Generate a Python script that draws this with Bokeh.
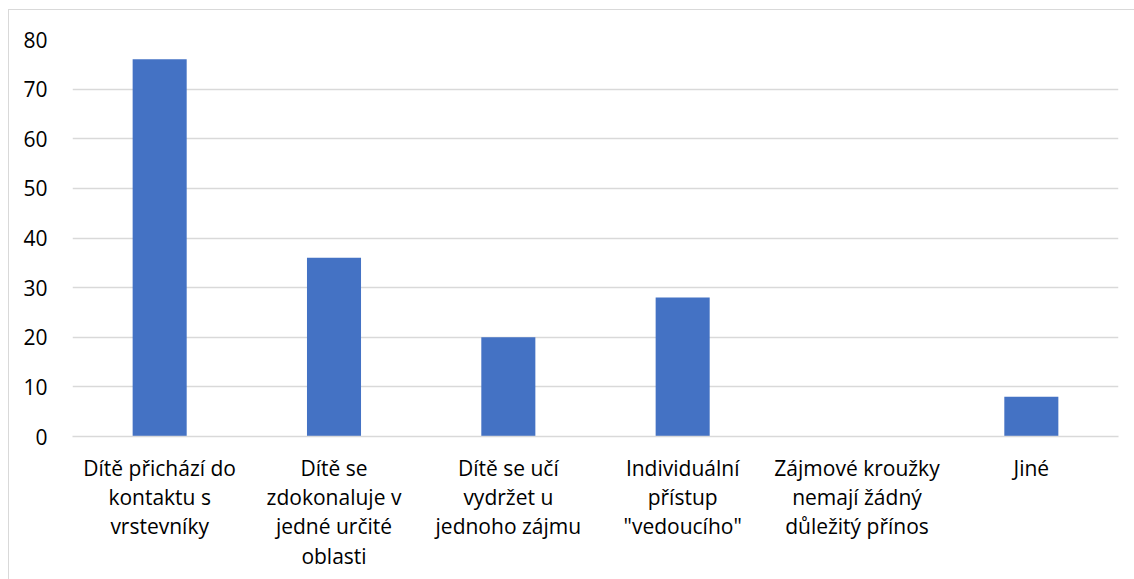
from bokeh.plotting import figure
from bokeh.models import ColumnDataSource, FixedTicker, Range1d
from bokeh.embed import file_html
from bokeh.resources import INLINE

categories = [
    "Dítě přichází do\nkontaktu s\nvrstevníky",
    "Dítě se\nzdokonaluje v\njedné určité\noblasti",
    "Dítě se učí\nvydržet u\njednoho zájmu",
    "Individuální\npřístup\n\"vedoucího\"",
    "Zájmové kroužky\nnemají žádný\ndůležitý přínos",
    "Jiné",
]
values = [76, 36, 20, 28, 0, 8]
y_ticks = [0, 10, 20, 30, 40, 50, 60, 70, 80]

FONT = "Open Sans"

src = ColumnDataSource(dict(cat=categories, val=values))

p = figure(
    x_range=categories,
    y_range=Range1d(0, 80),
    width=1126,
    height=570,
    output_backend="svg",
    toolbar_location=None,
    min_border_left=63,
    min_border_right=17,
    min_border_top=29,
    min_border_bottom=144,
)
p.styles = {
    "margin-left": "8px",
    "margin-top": "9px",
    "border-left": "1px solid #d9d9d9",
    "border-top": "1px solid #d9d9d9",
}
p.vbar(x="cat", top="val", width=0.31, source=src, color="#4472C4", line_color=None)

p.outline_line_color = None
p.xgrid.grid_line_color = None
p.ygrid.grid_line_color = "#d9d9d9"
p.ygrid.grid_line_width = 1.5
p.yaxis.ticker = FixedTicker(ticks=y_ticks)
p.yaxis.axis_line_color = None
p.yaxis.major_tick_line_color = None
p.yaxis.minor_tick_line_color = None
p.yaxis.major_label_standoff = 19
p.yaxis.major_label_text_font = FONT
p.yaxis.major_label_text_font_size = "21px"
p.yaxis.major_label_text_color = "#000000"

p.xaxis.axis_line_color = "#d9d9d9"
p.xaxis.axis_line_width = 1.5
p.xaxis.major_tick_line_color = None
p.xaxis.minor_tick_line_color = None
p.xaxis.major_label_standoff = 11
p.xaxis.major_label_text_font = FONT
p.xaxis.major_label_text_font_size = "21px"
p.xaxis.major_label_text_color = "#000000"
p.xaxis.major_label_text_line_height = 1.05
p.x_range.range_padding = 0

open("out.html", "w").write(file_html(p, INLINE))
